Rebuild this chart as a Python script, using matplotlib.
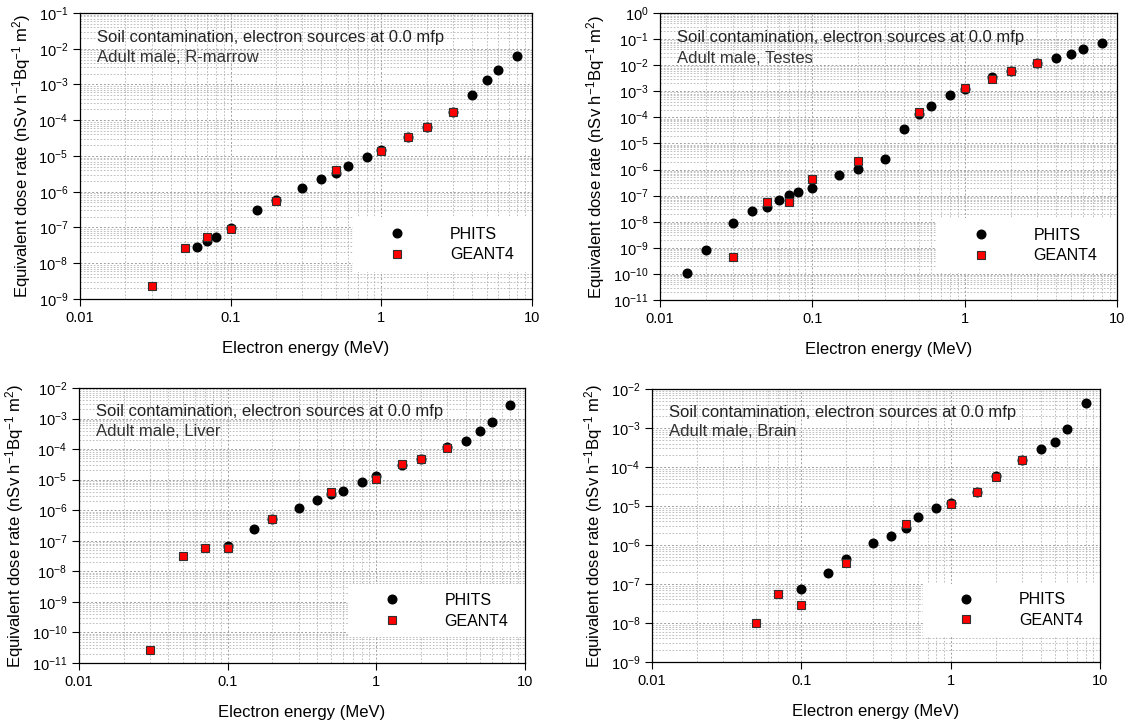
import numpy as np
import matplotlib
matplotlib.use("Agg")
import matplotlib.pyplot as plt
from matplotlib.ticker import LogLocator, NullFormatter
from matplotlib.patches import Rectangle

plt.rcParams['font.family'] = ['Liberation Sans', 'DejaVu Sans']
plt.rcParams['mathtext.fontset'] = 'custom'
plt.rcParams['mathtext.rm'] = 'Liberation Sans'
plt.rcParams['mathtext.it'] = 'Liberation Sans:italic'
plt.rcParams['mathtext.default'] = 'regular'

# ---- data ----
# R-marrow
rm_phits_e = [0.06, 0.07, 0.08, 0.1, 0.15, 0.2, 0.3, 0.4, 0.5, 0.6, 0.8, 1.0, 1.5, 2.0, 3.0, 4.0, 5.0, 6.0, 8.0]
rm_phits_d = [2.9e-8, 4.3e-8, 5.3e-8, 9.5e-8, 3.0e-7, 5.9e-7, 1.3e-6, 2.2e-6, 3.3e-6, 5.2e-6, 9.3e-6,
              1.45e-5, 3.3e-5, 6.3e-5, 1.7e-4, 5.0e-4, 1.35e-3, 2.6e-3, 6.3e-3]
rm_geant_e = [0.03, 0.05, 0.07, 0.1, 0.2, 0.5, 1.0, 1.5, 2.0, 3.0]
rm_geant_d = [2.35e-9, 2.6e-8, 5.3e-8, 9.1e-8, 5.4e-7, 4.0e-6, 1.4e-5, 3.3e-5, 6.3e-5, 1.7e-4]

# Testes
te_phits_e = [0.015, 0.02, 0.03, 0.04, 0.05, 0.06, 0.07, 0.08, 0.1, 0.15, 0.2, 0.3, 0.4, 0.5, 0.6, 0.8,
              1.0, 1.5, 2.0, 3.0, 4.0, 5.0, 6.0, 8.0]
te_phits_d = [1.07e-10, 8.3e-10, 8.9e-9, 2.6e-8, 3.8e-8, 6.8e-8, 1.1e-7, 1.4e-7, 1.95e-7, 6.2e-7, 1.05e-6,
              2.45e-6, 3.6e-5, 1.3e-4, 2.8e-4, 6.9e-4, 1.17e-3, 3.5e-3, 6.0e-3, 1.2e-2, 1.95e-2,
              2.7e-2, 4.0e-2, 7.1e-2]
te_geant_e = [0.03, 0.05, 0.07, 0.1, 0.2, 0.5, 1.0, 1.5, 2.0, 3.0]
te_geant_d = [4.4e-10, 5.5e-8, 5.9e-8, 4.2e-7, 2.2e-6, 1.6e-4, 1.3e-3, 3.0e-3, 5.9e-3, 1.2e-2]

# Liver
li_phits_e = [0.1, 0.15, 0.2, 0.3, 0.4, 0.5, 0.6, 0.8, 1.0, 1.5, 2.0, 3.0, 4.0, 5.0, 6.0, 8.0]
li_phits_d = [6.8e-8, 2.5e-7, 5.1e-7, 1.15e-6, 2.1e-6, 3.3e-6, 4.3e-6, 8.1e-6, 1.35e-5, 2.95e-5,
              4.8e-5, 1.2e-4, 1.9e-4, 3.9e-4, 7.9e-4, 2.7e-3]
li_geant_e = [0.03, 0.05, 0.07, 0.1, 0.2, 0.5, 1.0, 1.5, 2.0, 3.0]
li_geant_d = [2.6e-11, 3.1e-8, 5.6e-8, 5.9e-8, 5.0e-7, 3.8e-6, 1.07e-5, 3.2e-5, 4.8e-5, 1.1e-4]

# Brain
br_phits_e = [0.1, 0.15, 0.2, 0.3, 0.4, 0.5, 0.6, 0.8, 1.0, 1.5, 2.0, 3.0, 4.0, 5.0, 6.0, 8.0]
br_phits_d = [7.6e-8, 1.86e-7, 4.5e-7, 1.15e-6, 1.7e-6, 2.8e-6, 5.2e-6, 9.1e-6, 1.22e-5, 2.3e-5,
              5.9e-5, 1.47e-4, 2.9e-4, 4.5e-4, 9.3e-4, 4.3e-3]
br_geant_e = [0.05, 0.07, 0.1, 0.2, 0.5, 1.0, 1.5, 2.0, 3.0]
br_geant_d = [9.8e-9, 5.6e-8, 2.9e-8, 3.5e-7, 3.5e-6, 1.13e-5, 2.3e-5, 5.7e-5, 1.55e-4]

organs = ["R-marrow", "Testes", "Liver", "Brain"]
ylims = [(1e-9, 1e-1), (1e-11, 1e0), (1e-11, 1e-2), (1e-9, 1e-2)]
positions = [[0.0707, 0.5882, 0.3996, 0.3939],
             [0.5836, 0.5868, 0.4041, 0.3953],
             [0.0698, 0.0868, 0.3943, 0.3788],
             [0.5765, 0.0882, 0.3961, 0.3760]]
series = [(rm_phits_e, rm_phits_d, rm_geant_e, rm_geant_d),
          (te_phits_e, te_phits_d, te_geant_e, te_geant_d),
          (li_phits_e, li_phits_d, li_geant_e, li_geant_d),
          (br_phits_e, br_phits_d, br_geant_e, br_geant_d)]

fig = plt.figure(figsize=(11.31, 7.26), dpi=100)

for i in range(4):
    ax = fig.add_axes(positions[i])
    pe, pd_, ge, gd = series[i]
    ax.set_xscale('log')
    ax.set_yscale('log')
    ax.set_xlim(0.01, 10)
    ax.set_ylim(*ylims[i])

    ax.yaxis.set_major_locator(LogLocator(base=10, numticks=20))
    ax.yaxis.set_minor_locator(LogLocator(base=10, subs=np.arange(2, 10), numticks=20))
    ax.yaxis.set_minor_formatter(NullFormatter())
    ax.xaxis.set_minor_locator(LogLocator(base=10, subs=np.arange(2, 10), numticks=20))
    ax.xaxis.set_minor_formatter(NullFormatter())
    ax.set_xticks([0.01, 0.1, 1, 10])
    ax.set_xticklabels(["0.01", "0.1", "1", "10"])

    ax.set_axisbelow(True)
    ax.grid(True, which='major', color='#a0a0a0', linestyle=(0, (2, 2)), linewidth=0.7)
    ax.grid(True, which='minor', color='#b4b4b4', linestyle=(0, (2, 2)), linewidth=0.6)
    ax.tick_params(which='major', direction='out', length=5, width=0.8, labelsize=10.5)
    ax.tick_params(which='minor', length=0)
    for s in ax.spines.values():
        s.set_linewidth(0.9)

    # white box behind the legend
    ax.add_patch(Rectangle((0.604, 0.094), 0.396, 0.193, transform=ax.transAxes,
                           facecolor='white', edgecolor='none', zorder=1))

    ax.plot(pe, pd_, 'o', color='black', markersize=6.2, label='PHITS', zorder=3)
    ax.plot(ge, gd, 's', markerfacecolor='red', markeredgecolor='#303030',
            markeredgewidth=0.8, markersize=5.6, label='GEANT4', zorder=4)

    ax.text(0.038, 0.913, "Soil contamination, electron sources at 0.0 mfp",
            transform=ax.transAxes, fontsize=12, color='#222222', va='center')
    ax.text(0.038, 0.843, "Adult male, " + organs[i],
            transform=ax.transAxes, fontsize=12, color='#333333', va='center')

    ax.legend(loc='center left', bbox_to_anchor=(0.677, 0.19), frameon=False,
              fontsize=11.5, handlelength=1.4, handletextpad=2.6, labelspacing=0.35,
              borderpad=0, borderaxespad=0)

    ax.set_xlabel("Electron energy (MeV)", fontsize=12, labelpad=12)
    ax.set_ylabel("Equivalent dose rate (nSv h$^{-1}$Bq$^{-1}$ m$^{2}$)", fontsize=12)

fig.savefig("out.png", dpi=100)
